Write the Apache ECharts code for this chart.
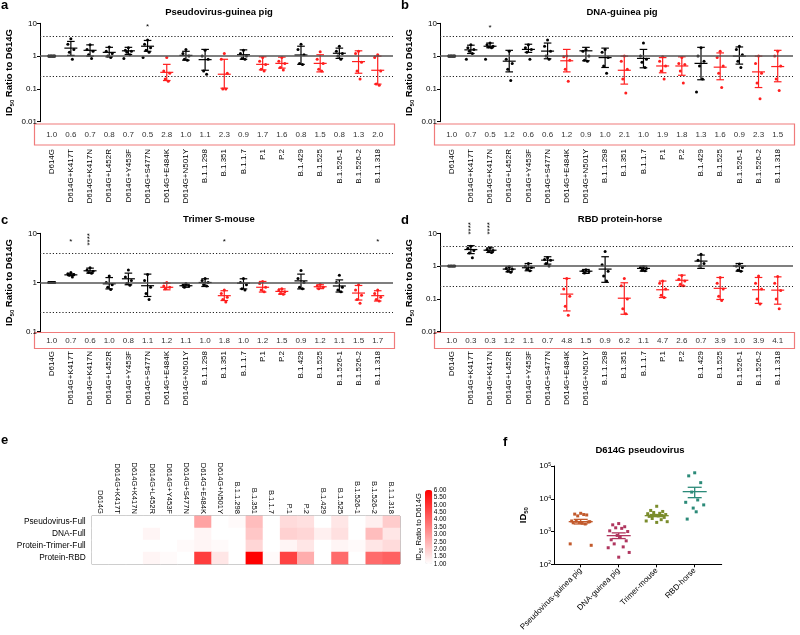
<!DOCTYPE html>
<html><head><meta charset="utf-8">
<script src="https://cdn.jsdelivr.net/npm/echarts/dist/echarts.min.js"></script>
<style>html,body{margin:0;padding:0;background:#fff}#c{width:800px;height:635px}</style>
</head><body><div id="c"></div><script>
// ---------------- DATA ----------------
const categories = ['D614G','D614G+K417T','D614G+K417N','D614G+L452R','D614G+Y453F','D614G+S477N','D614G+E484K','D614G+N501Y','B.1.1.298','B.1.351','B.1.1.7','P.1','P.2','B.1.429','B.1.525','B.1.526-1','B.1.526-2','B.1.1.318'];
const e484Group = [0,0,0,0,0,0,1,0,0,1,0,1,1,0,1,0,1,1];

const yTicksA = ['0.01','0.1','1','10'];
const yTicksC = ['0.1','1','10'];

// Panel a: Pseudovirus-guinea pig
const foldA = [1.0,0.6,0.7,0.8,0.7,0.5,2.8,1.0,1.1,2.3,0.9,1.7,1.6,0.8,1.5,0.8,1.3,2.0];
const meanA = [1.0,1.75,1.5,1.3,1.45,2.0,0.32,1.05,0.78,0.28,1.1,0.56,0.6,1.08,0.6,1.22,0.68,0.37];
const loA   = [0.95,1.05,1.0,0.95,1.12,1.4,0.18,0.75,0.37,0.105,0.8,0.38,0.43,0.56,0.33,0.85,0.3,0.14];
const hiA   = [1.05,2.8,2.2,1.85,1.85,3.0,0.56,1.4,1.6,0.8,1.55,0.95,0.93,2.0,1.1,1.75,1.45,1.0];
const ptsA = [[1,1,1,1,1],[3.4,2.3,1.6,1.3,0.8],[2.2,1.6,1.4,1.1,0.85],[1.9,1.4,1.2,1.0,0.9],[1.8,1.5,1.4,1.3,1.1,0.85],[3.1,2.3,1.8,1.5,1.3,0.9],[0.9,0.35,0.3,0.2,0.17],[1.6,1.2,1.0,0.8,0.75],[1.5,1.0,0.8,0.35,0.28],[1.2,0.8,0.3,0.1,0.1],[1.5,1.2,1.0,0.85,0.8],[0.9,0.7,0.55,0.4,0.35],[0.9,0.7,0.6,0.45,0.38],[2.3,1.6,1.1,0.6,0.55],[1.35,0.8,0.6,0.4,0.35],[2.0,1.4,1.2,1.0,0.8],[1.4,1.2,0.65,0.35,0.2],[1.1,0.9,0.35,0.14,0.13]];
const starsA = ['','','','','','*','','','','','','','','','','','',''];

// Panel b: DNA-guinea pig
const foldB = [1.0,0.7,0.5,1.2,0.6,0.6,1.2,0.9,1.0,2.1,1.0,1.9,1.8,1.3,1.6,0.9,2.3,1.5];
const meanB = [1.0,1.55,2.0,0.7,1.6,1.42,0.72,1.45,0.9,0.37,0.85,0.5,0.5,0.6,0.46,1.0,0.33,0.48];
const loB   = [0.95,1.2,1.8,0.33,1.3,0.83,0.33,0.72,0.45,0.14,0.44,0.31,0.26,0.19,0.19,0.57,0.11,0.165];
const hiB   = [1.05,2.15,2.5,1.5,2.3,2.5,1.6,1.85,1.75,1.0,1.6,0.9,0.95,1.85,1.25,1.9,1.0,1.5];
const ptsB = [[1,1,1,1,1],[2.2,1.8,1.6,1.4,1.2,0.8],[2.5,2.2,2.0,1.9,1.8,0.8],[1.4,0.8,0.6,0.4,0.18],[2.2,1.8,1.6,1.3,0.8],[3.1,2.0,1.4,1.0,0.8],[1.0,0.95,0.75,0.4,0.17],[1.6,1.4,1.0,0.75,0.7],[1.6,1.3,0.9,0.5,0.3],[1.0,0.7,0.4,0.2,0.075],[2.5,1.0,0.8,0.65,0.45],[0.95,0.7,0.5,0.35,0.2],[0.9,0.6,0.55,0.35,0.15],[1.8,1.0,0.7,0.5,0.2,0.08],[1.4,0.9,0.5,0.3,0.11],[2.0,1.6,1.1,0.7,0.45],[1.0,0.6,0.3,0.15,0.05],[1.4,1.0,0.5,0.2,0.09]];
const starsB = ['','','*','','','','','','','','','','','','','','',''];

// Panel c: Trimer S-mouse
const foldC = [1.0,0.7,0.6,1.0,0.8,1.1,1.2,1.1,1.0,1.8,1.0,1.2,1.5,0.9,1.2,1.1,1.5,1.7];
const meanC = [1.0,1.43,1.73,0.94,1.19,0.86,0.8,0.86,1.0,0.54,0.97,0.8,0.66,1.08,0.82,0.85,0.61,0.54];
const loC   = [0.97,1.38,1.55,0.74,0.9,0.52,0.71,0.8,0.83,0.43,0.74,0.64,0.58,0.74,0.75,0.64,0.44,0.42];
const hiC   = [1.03,1.5,1.96,1.26,1.55,1.48,0.97,0.92,1.19,0.68,1.19,1.05,0.74,1.48,0.9,1.13,0.87,0.68];
const ptsC = [[1,1,1,1,1],[1.6,1.5,1.45,1.4,1.3],[2.0,1.8,1.7,1.6,1.55],[1.35,1.0,0.9,0.8,0.72],[1.8,1.3,1.1,0.95,0.88],[1.45,1.1,0.8,0.6,0.45],[1.0,0.85,0.8,0.75],[0.95,0.88,0.85,0.8],[1.2,1.1,1.0,0.9,0.85],[0.7,0.6,0.5,0.45,0.4],[1.2,1.0,0.9,0.75,0.7],[1.05,0.95,0.8,0.7,0.65],[0.75,0.7,0.65,0.6,0.58],[1.75,1.2,1.0,0.8,0.75],[0.92,0.85,0.8,0.75],[1.4,1.0,0.8,0.7,0.65],[0.9,0.7,0.55,0.45,0.38],[0.7,0.6,0.5,0.45,0.42]];
const starsC = ['','*','****','','','','','','','*','','','','','','','','*'];

// Panel d: RBD protein-horse
const foldD = [1.0,0.3,0.3,1.2,1.1,0.7,4.8,1.5,0.9,6.2,1.1,4.7,2.6,0.7,3.9,1.0,3.9,4.1];
const meanD = [1.0,3.2,3.05,0.81,0.89,1.52,0.14,0.7,0.81,0.105,0.85,0.19,0.37,1.42,0.21,1.0,0.19,0.185];
const loD   = [0.97,2.4,2.6,0.67,0.72,1.15,0.043,0.6,0.32,0.034,0.7,0.11,0.245,0.85,0.096,0.7,0.073,0.069];
const hiD   = [1.03,4.2,3.6,0.95,1.2,1.93,0.42,0.79,1.93,0.31,1.0,0.35,0.53,2.17,0.45,1.2,0.45,0.47];
const ptsD = [[1,1,1,1,1],[4.0,3.5,3.0,2.5,1.8],[3.6,3.2,3.0,2.8,2.6],[0.95,0.85,0.8,0.7,0.65],[1.2,1.0,0.9,0.8,0.72],[1.8,1.6,1.5,1.2,1.0],[0.42,0.2,0.12,0.06,0.032],[0.78,0.72,0.68,0.62],[2.8,1.1,0.7,0.5,0.35],[0.42,0.25,0.1,0.05,0.035],[0.95,0.9,0.85,0.75,0.72],[0.35,0.3,0.2,0.13,0.11],[0.52,0.4,0.35,0.28,0.25],[2.3,1.5,1.2,1.0],[0.45,0.3,0.2,0.12,0.09],[1.15,1.0,0.9,0.75,0.7],[0.5,0.3,0.2,0.1,0.07],[0.48,0.3,0.18,0.1,0.05]];
const starsD = ['','****','****','','','','','','','','','','','','','','',''];

// Panel e: heatmap
const heatRows = ['Pseudovirus-Full','DNA-Full','Protein-Trimer-Full','Protein-RBD'];
const heatTicks = ['1.00','1.50','2.00','2.50','3.00','3.50','4.00','4.50','5.00','5.50','6.00'];

// Panel f: D614G pseudovirus
const fCats = ['Pseudovirus-guinea pig','DNA-guinea pig','Trimer-mouse','RBD-horse'];
const fExp = [2,3,4,5];
const fMean = [2000,750,3050,16500];
const fLo = [1700,610,2850,10800];
const fHi = [2350,910,3300,22400];
const fPts = [
  [3600,3400,3200,3000,3300,2100,2000,1900,1800,1850,1950,2050,1700,420,380],
  [1750,1600,1400,1300,1250,1050,1000,760,700,560,520,420,340,320,230,165],
  [5900,4400,4100,3800,3600,3500,3300,3100,3000,2900,2700,2500,2300,2100,2000,1900],
  [62000,50000,31000,16000,9200,7800,6500,5200,4000,2400]
];

// ---------------- STYLE / LAYOUT ----------------
const FONT = '"Liberation Sans", Arial, sans-serif';
const RED = '#ff1f1f';
const fColors = ['#c25a2c','#b0365f','#7a8c2c','#2b8a78'];
const JIT = [0,-3,3,-1.5,1.5,-4.5,4.5];
const JITF = [0,-6,6,-3,3,-9,9,-1.5,1.5,-7.5,7.5,-4.5,4.5,-10.5,10.5,0];

const grids=[], xAxes=[], yAxes=[], series=[], graphics=[];
const addGrid=g=>(grids.push(g),grids.length-1);
const addX=a=>(xAxes.push(a),xAxes.length-1);
const addY=a=>(yAxes.push(a),yAxes.length-1);

function logFmt(ticks){
  return v => { const e=Math.round(Math.log10(v)); const t=ticks.find(s=>Math.round(Math.log10(parseFloat(s)))===e); return t||''; };
}
const idName = {
  name:'{b|ID}{s|50}{b| Ratio to D614G}',
  nameTextStyle:{rich:{b:{fontSize:9.5,fontWeight:'bold',color:'#000',fontFamily:FONT,lineHeight:12},
                       s:{fontSize:6,fontWeight:'bold',color:'#000',fontFamily:FONT,verticalAlign:'bottom',lineHeight:9}}}
};

const panels = [
  {d:{fold:foldA,mean:meanA,lo:loA,hi:hiA,pts:ptsA,stars:starsA}, ox:0, top:23.3, h:98.4, yMin:0.01, yMax:10, ticks:yTicksA, title:'Pseudovirus-guinea pig', tx:219, ty:12, letter:'a', ly:-1, boxTop:124, boxH:21, numY:135, labTop:149, starOff:1},
  {d:{fold:foldB,mean:meanB,lo:loB,hi:hiB,pts:ptsB,stars:starsB}, ox:400, top:23.3, h:98.4, yMin:0.01, yMax:10, ticks:yTicksA, title:'DNA-guinea pig', tx:622, ty:12, letter:'b', ly:-1, boxTop:124, boxH:21, numY:135, labTop:149, starOff:2},
  {d:{fold:foldC,mean:meanC,lo:loC,hi:hiC,pts:ptsC,stars:starsC}, ox:0, top:233.3, h:98.4, yMin:0.1, yMax:10, ticks:yTicksC, title:'Trimer S-mouse', tx:219, ty:219, letter:'c', ly:214, boxTop:332.5, boxH:16, numY:340.5, labTop:351, starOff:6},
  {d:{fold:foldD,mean:meanD,lo:loD,hi:hiD,pts:ptsD,stars:starsD}, ox:400, top:233.3, h:98.4, yMin:0.01, yMax:10, ticks:yTicksA, title:'RBD protein-horse', tx:620, ty:219, letter:'d', ly:214, boxTop:332.5, boxH:16, numY:340.5, labTop:351, starOff:-5}
];

function errItem(colorOf, mwOf, cw, lw){
  return (params, api) => {
    const i=api.value(0); const c=colorOf(i);
    const pm=api.coord([i,api.value(1)]), pl=api.coord([i,api.value(2)]), ph=api.coord([i,api.value(3)]);
    const mw=mwOf(i); const st={stroke:c,lineWidth:lw};
    return {type:'group',children:[
      {type:'line',shape:{x1:pm[0]-mw,y1:pm[1],x2:pm[0]+mw,y2:pm[1]},style:st},
      {type:'line',shape:{x1:pl[0],y1:pl[1],x2:ph[0],y2:ph[1]},style:st},
      {type:'line',shape:{x1:pl[0]-cw,y1:pl[1],x2:pl[0]+cw,y2:pl[1]},style:st},
      {type:'line',shape:{x1:ph[0]-cw,y1:ph[1],x2:ph[0]+cw,y2:ph[1]},style:st}]};
  };
}

panels.forEach(P=>{
  const d=P.d; const bottom=P.top+P.h;
  const go=addGrid({left:P.ox+40,top:P.top,width:353,height:P.h});
  const gi=addGrid({left:P.ox+42.1,top:P.top,width:345.2,height:P.h});
  const xo=addX({type:'value',gridIndex:go,min:0,max:1,show:false});
  const yo=addY(Object.assign({type:'log',logBase:10,gridIndex:go,min:P.yMin,max:P.yMax,
    axisLine:{show:true,lineStyle:{color:'#000',width:1}},
    axisTick:{show:true,length:3,lineStyle:{color:'#000'}},
    minorTick:{show:false},splitLine:{show:false},
    axisLabel:{fontSize:8,color:'#000',margin:3,fontFamily:FONT,formatter:logFmt(P.ticks)},
    nameLocation:'middle',nameGap:25},idName));
  const xi=addX({type:'category',gridIndex:gi,data:categories,position:'bottom',
    axisLine:{show:false},axisTick:{show:false},
    axisLabel:{interval:0,rotate:90,fontSize:8,color:'#000',fontFamily:FONT,margin:P.labTop-bottom}});
  addX({type:'category',gridIndex:gi,data:categories,position:'bottom',
    axisLine:{show:false},axisTick:{show:false},
    axisLabel:{interval:0,fontSize:8,color:'#333',fontFamily:FONT,margin:P.numY-bottom,verticalAlign:'middle',
      formatter:(v,idx)=>d.fold[idx].toFixed(1)}});
  const yi=addY({type:'log',logBase:10,gridIndex:gi,min:P.yMin,max:P.yMax,show:false});
  series.push({type:'scatter',xAxisIndex:xo,yAxisIndex:yo,data:[[0.5,1]],symbolSize:0,silent:true,
    markLine:{silent:true,symbol:'none',label:{show:false},animation:false,
      data:[{yAxis:1,lineStyle:{color:'#555',type:'solid',width:1.6}},
            {yAxis:4,lineStyle:{color:'#222',type:[1.2,2],width:1}},
            {yAxis:0.25,lineStyle:{color:'#222',type:[1.2,2],width:1}}]}});
  series.push({type:'custom',coordinateSystem:'cartesian2d',xAxisIndex:xi,yAxisIndex:yi,silent:true,
    data:d.mean.map((m,i)=>[i,m,d.lo[i],d.hi[i]]),
    renderItem:errItem(i=>e484Group[i]?RED:'#000', i=>i===0?3.8:6.5, 3.8, 1.2)});
  const pd=[]; d.pts.forEach((arr,i)=>arr.forEach((v,k)=>pd.push([i,v,k])));
  series.push({type:'custom',coordinateSystem:'cartesian2d',xAxisIndex:xi,yAxisIndex:yi,silent:true,data:pd,
    renderItem:(params,api)=>{const i=api.value(0);const p=api.coord([i,api.value(1)]);
      return {type:'circle',shape:{cx:p[0]+JIT[api.value(2)%JIT.length],cy:p[1],r:1.5},style:{fill:e484Group[i]?RED:'#000'}};}});
  const sd=[], st=[]; d.stars.forEach((s,i)=>{if(s){sd.push([i,P.yMax]);st.push(s);}});
  series.push({type:'custom',coordinateSystem:'cartesian2d',xAxisIndex:xi,yAxisIndex:yi,silent:true,data:sd,
    renderItem:(params,api)=>{const p=api.coord([api.value(0),api.value(1)]);const s=st[params.dataIndex];
      return {type:'text',x:p[0],y:p[1]+P.starOff+(s.length>1?0:2),rotation:s.length>1?Math.PI/2:0,
        style:{text:s,fontSize:8,fontFamily:FONT,fill:'#000',align:'center',verticalAlign:'middle'}};}});
  graphics.push({type:'rect',shape:{x:P.ox+34.5,y:P.boxTop,width:360,height:P.boxH},style:{fill:'none',stroke:'#f07b7b',lineWidth:1.2},silent:true});
  graphics.push({type:'text',x:P.tx,y:P.ty,style:{text:P.title,font:'bold 9.5px '+FONT,fill:'#000',textAlign:'center',textVerticalAlign:'middle'}});
  graphics.push({type:'text',x:P.ox+1,y:P.ly,style:{text:P.letter,font:'bold 13px '+FONT,fill:'#000',textAlign:'left',textVerticalAlign:'top'}});
});

// ---- panel e: heatmap ----
const folds=[foldA,foldB,foldC,foldD];
const heatData=[]; folds.forEach((row,r)=>row.forEach((v,c)=>heatData.push([c,r,Math.min(6,Math.max(1,v))])));
const gh=addGrid({left:91.7,top:516,width:308.3,height:48,show:true,borderColor:'#808080',borderWidth:1,backgroundColor:'transparent'});
const xh=addX({type:'category',gridIndex:gh,data:categories,position:'top',axisLine:{show:false},axisTick:{show:false},
  axisLabel:{interval:0,rotate:90,fontSize:7.6,color:'#000',fontFamily:FONT,margin:2},splitLine:{show:false}});
const yh=addY({type:'category',gridIndex:gh,data:heatRows,inverse:true,axisLine:{show:false},axisTick:{show:false},
  axisLabel:{fontSize:8.3,color:'#000',fontFamily:FONT,margin:6},splitLine:{show:false}});
const heatIdx=series.length;
series.push({type:'heatmap',xAxisIndex:xh,yAxisIndex:yh,data:heatData,silent:true,itemStyle:{borderWidth:0}});
// colour bar tick labels
const gc=addGrid({left:425,top:490,width:7.3,height:74});
addX({type:'value',gridIndex:gc,min:0,max:1,show:false});
addY({type:'value',gridIndex:gc,min:1,max:6,interval:0.5,position:'right',axisLine:{show:false},axisTick:{show:false},splitLine:{show:false},
  axisLabel:{fontSize:6.5,color:'#000',fontFamily:FONT,margin:1.5,formatter:v=>heatTicks[Math.round((v-1)*2)]||''}});
addY({type:'value',gridIndex:gc,min:1,max:6,position:'left',axisLine:{show:false},axisTick:{show:false},splitLine:{show:false},axisLabel:{show:false},
  name:'{b|ID}{s|50}{b| Ratio to D614G}',nameLocation:'middle',nameGap:1,
  nameTextStyle:{rich:{b:{fontSize:7.6,color:'#000',fontFamily:FONT,lineHeight:10},s:{fontSize:5,color:'#000',fontFamily:FONT,verticalAlign:'bottom',lineHeight:8}}}});
graphics.push({type:'text',x:1,y:434,style:{text:'e',font:'bold 13px '+FONT,fill:'#000',textAlign:'left',textVerticalAlign:'top'}});

// ---- panel f ----
const gfo=addGrid({left:554,top:466,width:167.7,height:98.3});
const gfi=addGrid({left:561.7,top:466,width:152,height:98.3});
addX({type:'value',gridIndex:gfo,min:0,max:1,axisLine:{show:true,lineStyle:{color:'#000'}},axisTick:{show:false},axisLabel:{show:false},splitLine:{show:false}});
const yfo=addY({type:'log',logBase:10,gridIndex:gfo,min:100,max:100000,
  axisLine:{show:true,lineStyle:{color:'#000'}},axisTick:{show:true,length:3,lineStyle:{color:'#000'}},minorTick:{show:false},splitLine:{show:false},
  axisLabel:{margin:3,formatter:v=>{const e=Math.round(Math.log10(v));return fExp.indexOf(e)>=0?'{n|10}{s|'+e+'}':'';},
    rich:{n:{fontSize:8,color:'#000',fontFamily:FONT},s:{fontSize:5,color:'#000',fontFamily:FONT,verticalAlign:'top',lineHeight:8}}},
  name:'{b|ID}{s|50}',nameLocation:'middle',nameGap:25,
  nameTextStyle:{rich:{b:{fontSize:9.5,fontWeight:'bold',color:'#000',fontFamily:FONT,lineHeight:12},s:{fontSize:6,fontWeight:'bold',color:'#000',fontFamily:FONT,verticalAlign:'bottom',lineHeight:9}}}});
const xfi=addX({type:'category',gridIndex:gfi,data:fCats,axisLine:{show:false},
  axisTick:{show:true,alignWithLabel:true,length:3,lineStyle:{color:'#000'}},
  axisLabel:{interval:0,rotate:45,fontSize:8,color:'#000',fontFamily:FONT,margin:5}});
const yfi=addY({type:'log',logBase:10,gridIndex:gfi,min:100,max:100000,show:false});
series.push({type:'custom',coordinateSystem:'cartesian2d',xAxisIndex:xfi,yAxisIndex:yfi,silent:true,
  data:fMean.map((m,i)=>[i,m,fLo[i],fHi[i]]),
  renderItem:errItem(i=>fColors[i], ()=>12, 7, 1.3)});
const fpd=[]; fPts.forEach((arr,i)=>arr.forEach((v,k)=>fpd.push([i,v,k])));
series.push({type:'custom',coordinateSystem:'cartesian2d',xAxisIndex:xfi,yAxisIndex:yfi,silent:true,data:fpd,
  renderItem:(params,api)=>{const i=api.value(0);const p=api.coord([i,api.value(1)]);const dx=JITF[api.value(2)%JITF.length];
    return {type:'rect',shape:{x:p[0]+dx-1.5,y:p[1]-1.5,width:3,height:3},style:{fill:fColors[i]}};}});
graphics.push({type:'text',x:640,y:450,style:{text:'D614G pseudovirus',font:'bold 9.5px '+FONT,fill:'#000',textAlign:'center',textVerticalAlign:'middle'}});
graphics.push({type:'text',x:503,y:436,style:{text:'f',font:'bold 13px '+FONT,fill:'#000',textAlign:'left',textVerticalAlign:'top'}});

const chart=echarts.init(document.getElementById('c'),null,{renderer:'canvas'});
chart.setOption({
  animation:false,
  backgroundColor:'#fff',
  textStyle:{fontFamily:FONT},
  grid:grids, xAxis:xAxes, yAxis:yAxes, series:series,
  visualMap:[{type:'continuous',min:1,max:6,seriesIndex:heatIdx,calculable:false,orient:'vertical',
    left:425,top:490,itemWidth:7.3,itemHeight:74,padding:0,inRange:{color:['#ffffff','#ff0000']},text:null,showLabel:false}],
  graphic:graphics
});
</script></body></html>
